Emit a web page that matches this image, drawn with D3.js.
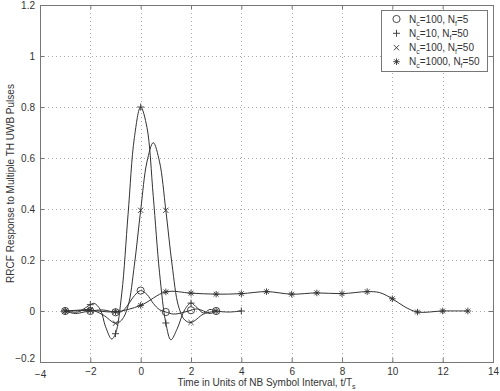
<!DOCTYPE html>
<html>
<head>
<meta charset="utf-8">
<script src="https://cdn.jsdelivr.net/npm/d3@7.9.0/dist/d3.min.js"></script>
<style>
  body { margin: 0; background: #fff; }
  svg { display: block; font-family: "Liberation Sans", Arial, sans-serif; }
</style>
</head>
<body>
<div id="chart"></div>
<script>
// axis ticks
const xTicks = [-4, -2, 0, 2, 4, 6, 8, 10, 12, 14];
const yTicks = [-0.2, 0, 0.2, 0.4, 0.6, 0.8, 1, 1.2];

// Nc=100, Nf=5 (circles)
const circleT = [-3, -2.6, -2.25, -2, -1.5, -1, -0.75, -0.5, -0.25, 0, 0.25, 0.5, 0.75, 1, 1.3, 1.6, 2, 2.25, 2.5, 2.75, 3];
const circleV = [0, -0.01, -0.004, 0, 0.004, -0.005, -0.002, 0.025, 0.06, 0.08, 0.065, 0.03, 0.005, -0.004, -0.012, -0.008, 0.003, 0.008, 0, -0.01, 0];

// Nc=10, Nf=50 (plus)
const plusT = [-3, -2.5, -2.2, -2, -1.85, -1.6, -1.4, -1.15, -1, -0.75, -0.5, -0.25, 0, 0.25, 0.5, 0.75, 1, 1.2, 1.45, 1.75, 2, 2.25, 2.5, 2.75, 3, 3.5, 4];
const plusV = [0, -0.004, 0.012, 0.025, 0.03, 0.005, -0.06, -0.11, -0.089, 0.07, 0.38, 0.68, 0.8, 0.72, 0.45, 0.15, -0.047, -0.113, -0.07, 0.005, 0.031, 0.012, -0.008, 0.006, 0, -0.004, 0];

// Nc=100, Nf=50 (x)
const crossT = [-3, -2.5, -2, -1.5, -1, -0.75, -0.5, -0.25, 0, 0.25, 0.5, 0.75, 1, 1.25, 1.5, 1.75, 2, 2.5, 3];
const crossV = [0, 0.003, 0.005, -0.015, -0.048, -0.035, 0.02, 0.18, 0.395, 0.585, 0.66, 0.585, 0.395, 0.18, 0.02, -0.035, -0.045, -0.012, 0];

// Nc=1000, Nf=50 (star)
const starT = [-3, -2, -1, 0, 1, 2, 3, 4, 5, 6, 7, 8, 9, 9.5, 10, 10.5, 11, 12, 13];
const starV = [0, 0.002, -0.003, 0.022, 0.075, 0.07, 0.066, 0.068, 0.076, 0.066, 0.071, 0.068, 0.076, 0.072, 0.048, 0.016, -0.004, 0, 0];

const legendLabels = [
  ["100", "5"],
  ["10", "50"],
  ["100", "50"],
  ["1000", "50"]
];

const width = 500, height = 391;
const margin = { top: 5, right: 7, bottom: 29, left: 40 };

const svg = d3.select('#chart').append('svg')
  .attr('width', width)
  .attr('height', height);

const xScale = d3.scaleLinear().domain([-4, 14]).range([margin.left, width - margin.right]);
const yScale = d3.scaleLinear().domain([-0.2, 1.2]).range([height - margin.bottom, margin.top]);

const plotLeft = margin.left, plotRight = width - margin.right;
const plotTop = margin.top, plotBottom = height - margin.bottom;

// dotted grid
const grid = svg.append('g').attr('stroke', '#aaa').attr('stroke-dasharray', '1,3').attr('stroke-width', 1);
grid.selectAll('line.gx')
  .data(xTicks.slice(1, -1))
  .join('line')
  .attr('x1', d => Math.round(xScale(d)) + 0.5).attr('x2', d => Math.round(xScale(d)) + 0.5)
  .attr('y1', plotTop).attr('y2', plotBottom);
grid.selectAll('line.gy')
  .data(yTicks.slice(1, -1))
  .join('line')
  .attr('y1', d => Math.round(yScale(d)) + 0.5).attr('y2', d => Math.round(yScale(d)) + 0.5)
  .attr('x1', plotLeft).attr('x2', plotRight);

// axes: MATLAB-like box with inward ticks
const xAxis = d3.axisBottom(xScale).tickValues(xTicks).tickSize(-4).tickPadding(6).tickFormat(d3.format('d'));
const yAxis = d3.axisLeft(yScale).tickValues(yTicks).tickSize(-4).tickPadding(5).tickFormat(d => d === 0 ? '0' : d3.format('~g')(d));

const gx = svg.append('g').attr('transform', `translate(0,${plotBottom})`).call(xAxis);
const gy = svg.append('g').attr('transform', `translate(${plotLeft},0)`).call(yAxis);
svg.append('g').attr('transform', `translate(0,${plotTop})`).call(d3.axisTop(xScale).tickValues(xTicks).tickSize(-4).tickFormat(''));
svg.append('g').attr('transform', `translate(${plotRight},0)`).call(d3.axisRight(yScale).tickValues(yTicks).tickSize(-4).tickFormat(''));

svg.selectAll('.domain').attr('stroke', '#777');
svg.selectAll('.tick line').attr('stroke', '#777');
svg.selectAll('.tick text').attr('fill', '#333').style('font-size', '10px').style('font-family', '"Liberation Sans", Arial, sans-serif');
gy.selectAll('.tick text').filter(d => d === -0.2).attr('dy', '-0.05em');
gx.selectAll('.tick text').filter(d => d === -4).attr('dy', '1.0em');

// curves
const line = d3.line()
  .x(d => xScale(d[0]))
  .y(d => yScale(d[1]))
  .curve(d3.curveCatmullRom.alpha(0.5));

const series = [
  { t: circleT, v: circleV, marker: 'circle' },
  { t: plusT, v: plusV, marker: 'plus' },
  { t: crossT, v: crossV, marker: 'cross' },
  { t: starT, v: starV, marker: 'star' }
];

const plot = svg.append('g');
series.forEach(s => {
  const pts = s.t.map((t, i) => [t, s.v[i]]);
  plot.append('path')
    .attr('d', line(pts))
    .attr('fill', 'none')
    .attr('stroke', '#333')
    .attr('stroke-width', 1);
});

function drawMarker(g, type, x, y) {
  const m = g.append('g').attr('transform', `translate(${x},${y})`)
    .attr('stroke', '#333').attr('stroke-width', 0.9).attr('fill', 'none');
  if (type === 'circle') {
    m.append('circle').attr('r', 3.6);
  } else if (type === 'plus') {
    m.append('path').attr('d', 'M-3.5,0H3.5M0,-3.5V3.5');
  } else if (type === 'cross') {
    m.append('path').attr('d', 'M-2.6,-2.6L2.6,2.6M-2.6,2.6L2.6,-2.6');
  } else {
    m.append('path').attr('d', 'M-3.3,0H3.3M0,-3.3V3.3M-2.4,-2.4L2.4,2.4M-2.4,2.4L2.4,-2.4');
  }
}

series.forEach(s => {
  s.t.forEach((t, i) => {
    if (Number.isInteger(t)) drawMarker(plot, s.marker, xScale(t), yScale(s.v[i]));
  });
});

// legend
const lg = svg.append('g');
lg.append('rect')
  .attr('x', 381.5).attr('y', 10.5).attr('width', 106).attr('height', 61)
  .attr('fill', '#fff').attr('stroke', '#777');
const rowY = [19, 33.3, 47.7, 61.7];
series.forEach((s, i) => {
  drawMarker(lg, s.marker, 396.5, rowY[i]);
  const txt = lg.append('text')
    .attr('x', 409).attr('y', rowY[i] + 3.5)
    .attr('fill', '#333').style('font-size', '10px');
  txt.append('tspan').text('N');
  txt.append('tspan').attr('dy', 3).style('font-size', '7px').text('c');
  txt.append('tspan').attr('dy', -3).text(`=${legendLabels[i][0]}, N`);
  txt.append('tspan').attr('dy', 3).style('font-size', '7px').text('f');
  txt.append('tspan').attr('dy', -3).text(`=${legendLabels[i][1]}`);
});

// axis labels
const xl = svg.append('text')
  .attr('x', (plotLeft + plotRight) / 2).attr('y', 386)
  .attr('text-anchor', 'middle').attr('fill', '#333').style('font-size', '10px');
xl.append('tspan').text('Time in Units of NB Symbol Interval, t/T');
xl.append('tspan').attr('dy', 3).style('font-size', '7px').text('s');

svg.append('text')
  .attr('transform', `translate(14,${(plotTop + plotBottom) / 2}) rotate(-90)`)
  .attr('text-anchor', 'middle').attr('fill', '#333').style('font-size', '10px')
  .text('RRCF Response to Multiple TH UWB Pulses');
</script>
</body>
</html>
